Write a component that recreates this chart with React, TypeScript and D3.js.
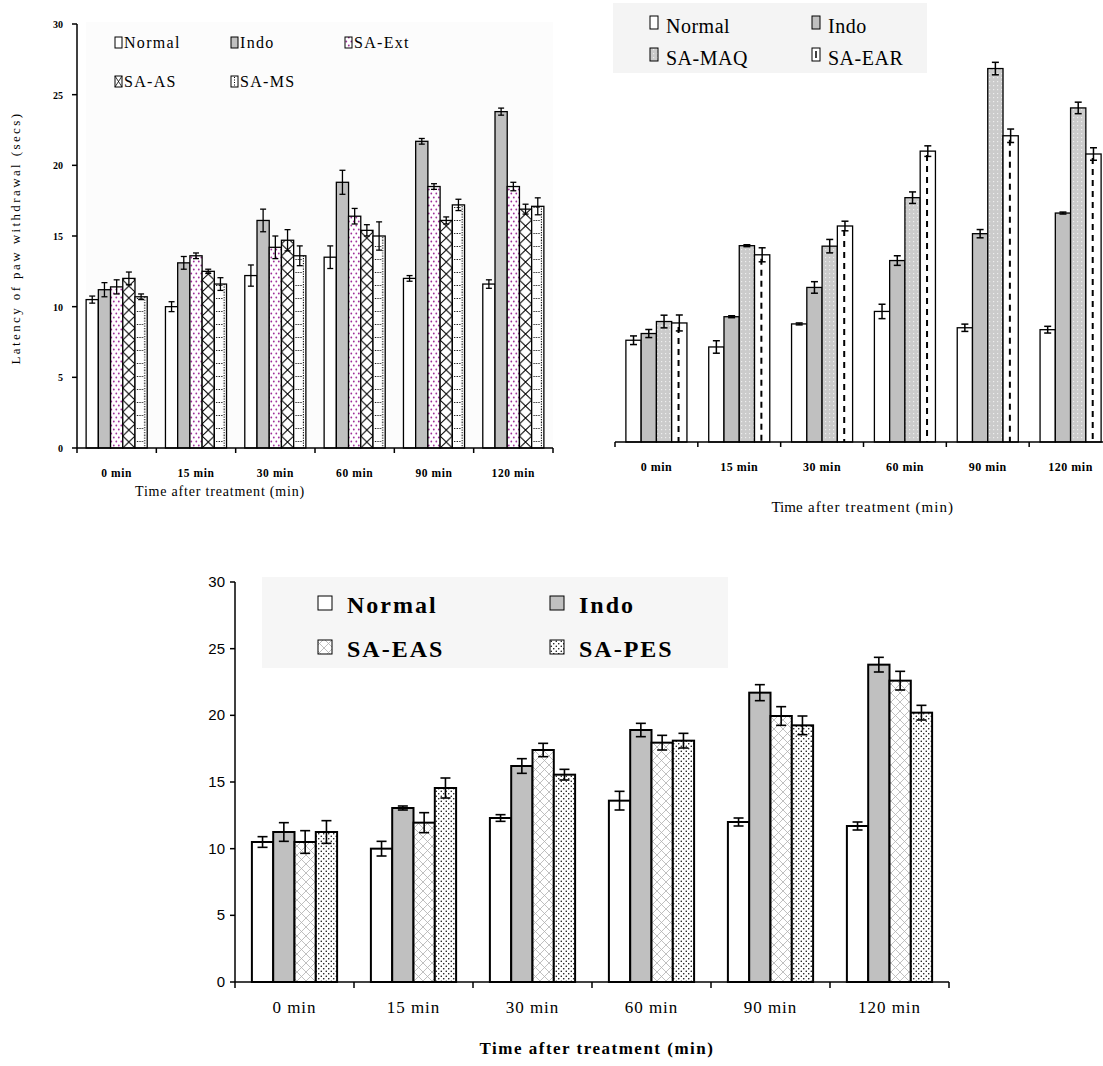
import React from 'react';
import * as d3 from 'd3';

const timePoints = ['0 min', '15 min', '30 min', '60 min', '90 min', '120 min'];
const yTicks = [0, 5, 10, 15, 20, 25, 30];

// top left panel
const normalA = [10.5, 10.0, 12.2, 13.5, 12.0, 11.6];
const normalAErr = [0.25, 0.35, 0.75, 0.8, 0.2, 0.3];
const indoA = [11.2, 13.1, 16.1, 18.8, 21.7, 23.8];
const indoAErr = [0.5, 0.45, 0.8, 0.85, 0.2, 0.25];
const saExtA = [11.4, 13.6, 14.2, 16.4, 18.5, 18.5];
const saExtAErr = [0.5, 0.2, 0.8, 0.55, 0.2, 0.3];
const saAsA = [12.0, 12.5, 14.7, 15.4, 16.1, 16.9];
const saAsAErr = [0.45, 0.15, 0.75, 0.4, 0.25, 0.35];
const saMsA = [10.7, 11.6, 13.6, 15.0, 17.2, 17.1];
const saMsAErr = [0.2, 0.45, 0.7, 1.0, 0.4, 0.6];

// top right panel
const normalB = [10.6, 9.9, 12.3, 13.6, 11.9, 11.7];
const normalBErr = [0.45, 0.65, 0.1, 0.75, 0.38, 0.35];
const indoB = [11.3, 13.05, 16.1, 18.9, 21.7, 23.85];
const indoBErr = [0.42, 0.1, 0.6, 0.5, 0.43, 0.1];
const saMaqB = [12.55, 20.45, 20.4, 25.45, 38.9, 34.8];
const saMaqBErr = [0.66, 0.1, 0.7, 0.6, 0.65, 0.6];
const saEarB = [12.4, 19.5, 22.5, 30.3, 31.9, 30.0];
const saEarBErr = [0.83, 0.73, 0.5, 0.55, 0.7, 0.65];

// bottom panel
const normalC = [10.5, 10.0, 12.3, 13.6, 12.0, 11.7];
const normalCErr = [0.4, 0.55, 0.25, 0.7, 0.3, 0.3];
const indoC = [11.25, 13.05, 16.2, 18.9, 21.7, 23.8];
const indoCErr = [0.7, 0.15, 0.55, 0.5, 0.6, 0.55];
const saEasC = [10.5, 11.95, 17.4, 17.95, 19.95, 22.6];
const saEasCErr = [0.85, 0.75, 0.5, 0.55, 0.7, 0.7];
const saPesC = [11.25, 14.55, 15.55, 18.1, 19.25, 20.2];
const saPesCErr = [0.85, 0.75, 0.4, 0.55, 0.7, 0.55];

type Series = { name: string; values: number[]; errs: number[]; kind: string };

const seriesA: Series[] = [
  { name: 'Normal', values: normalA, errs: normalAErr, kind: 'white' },
  { name: 'Indo', values: indoA, errs: indoAErr, kind: 'grey' },
  { name: 'SA-Ext', values: saExtA, errs: saExtAErr, kind: 'purpleDots' },
  { name: 'SA-AS', values: saAsA, errs: saAsAErr, kind: 'bigX' },
  { name: 'SA-MS', values: saMsA, errs: saMsAErr, kind: 'dotGrid' },
];
const seriesB: Series[] = [
  { name: 'Normal', values: normalB, errs: normalBErr, kind: 'white' },
  { name: 'Indo', values: indoB, errs: indoBErr, kind: 'grey' },
  { name: 'SA-MAQ', values: saMaqB, errs: saMaqBErr, kind: 'maq' },
  { name: 'SA-EAR', values: saEarB, errs: saEarBErr, kind: 'dashCenter' },
];
const seriesC: Series[] = [
  { name: 'Normal', values: normalC, errs: normalCErr, kind: 'white' },
  { name: 'Indo', values: indoC, errs: indoCErr, kind: 'grey' },
  { name: 'SA-EAS', values: saEasC, errs: saEasCErr, kind: 'greyCross' },
  { name: 'SA-PES', values: saPesC, errs: saPesCErr, kind: 'blackDots' },
];

function simpleFill(kind: string) {
  if (kind === 'grey') return '#c0c0c0';
  if (kind === 'purpleDots') return 'url(#purpleDots)';
  if (kind === 'maq') return 'url(#maqTex)';
  if (kind === 'greyCross') return 'url(#greyCross)';
  if (kind === 'blackDots') return 'url(#blackDots)';
  return '#fff';
}

function Bars({ id, series, x0, y, sw, capW, errW }: any) {
  const x1 = d3.scaleBand<string>().domain(series.map((s: Series) => s.name)).range([0, x0.bandwidth()]);
  const bw = x1.bandwidth();
  const base = y(0);
  return (
    <g>
      {series.map((s: Series, si: number) =>
        s.values.map((v, i) => {
          const bx = x0(timePoints[i]) + x1(s.name);
          const top = y(v);
          const pid = `${id}-${si}-${i}`;
          let fill = simpleFill(s.kind);
          let pat = null;
          if (s.kind === 'bigX') {
            pat = (
              <pattern id={pid} patternUnits="userSpaceOnUse" x={bx} y={base} width={bw} height={12}>
                <rect width={bw} height={12} fill="#fff" />
                <path d={`M0,0L${bw},12M${bw},0L0,12`} stroke="#000" strokeWidth={1} />
              </pattern>
            );
            fill = `url(#${pid})`;
          } else if (s.kind === 'dotGrid') {
            pat = (
              <pattern id={pid} patternUnits="userSpaceOnUse" x={bx} y={base} width={bw} height={13}>
                <rect width={bw} height={13} fill="#fff" />
                <line x1={bw * 0.15} x2={bw * 0.72} y1={6.5} y2={6.5} stroke="#000" strokeWidth={1} strokeDasharray="1.2,1.3" />
                <line x1={bw * 0.8} x2={bw * 0.8} y1={0} y2={13} stroke="#000" strokeWidth={1} strokeDasharray="1.2,1.3" />
              </pattern>
            );
            fill = `url(#${pid})`;
          }
          const e = s.errs[i];
          const cx = bx + bw / 2;
          return (
            <g key={pid}>
              {pat && <defs>{pat}</defs>}
              <rect x={bx} y={top} width={bw} height={base - top} fill={fill} stroke="#000" strokeWidth={sw} />
              {s.kind === 'dashCenter' && (
                <line x1={bx + bw * 0.45} x2={bx + bw * 0.45} y1={top + 4} y2={base} stroke="#000" strokeWidth={2} strokeDasharray="6,5" />
              )}
              <line x1={cx} x2={cx} y1={y(v + e)} y2={y(v - e)} stroke="#000" strokeWidth={errW} />
              <line x1={cx - capW / 2} x2={cx + capW / 2} y1={y(v + e)} y2={y(v + e)} stroke="#000" strokeWidth={errW} />
              <line x1={cx - capW / 2} x2={cx + capW / 2} y1={y(v - e)} y2={y(v - e)} stroke="#000" strokeWidth={errW} />
            </g>
          );
        })
      )}
    </g>
  );
}

function XAxis({ x0, y0, tickLen, labelY, fontSize, bold, spacing }: any) {
  const [r0, r1] = x0.range();
  const step = x0.step();
  const bounds = d3.range(timePoints.length + 1).map((k) => r0 + k * step);
  return (
    <g>
      <line x1={r0} x2={r1} y1={y0} y2={y0} stroke="#000" strokeWidth={1.5} />
      {bounds.map((b, k) => (
        <line key={k} x1={b} x2={b} y1={y0} y2={y0 + tickLen} stroke="#000" strokeWidth={1.5} />
      ))}
      {timePoints.map((t) => (
        <text key={t} x={x0(t) + x0.bandwidth() / 2} y={labelY} textAnchor="middle" fontSize={fontSize}
          fontWeight={bold ? 'bold' : 'normal'} letterSpacing={spacing || 0}>
          {t}
        </text>
      ))}
    </g>
  );
}

function YAxis({ y, x, labelX, fontSize, fontFamily, bold, dy }: any) {
  const [d0, d1] = y.domain();
  return (
    <g>
      <line x1={x} x2={x} y1={y(d0)} y2={y(d1)} stroke="#000" strokeWidth={1.5} />
      {yTicks.map((t) => (
        <g key={t}>
          <line x1={x - 5} x2={x} y1={y(t)} y2={y(t)} stroke="#000" strokeWidth={1.5} />
          <text x={labelX} y={y(t) + dy} textAnchor="end" fontSize={fontSize} fontFamily={fontFamily} fontWeight={bold ? 'bold' : 'normal'}>
            {t}
          </text>
        </g>
      ))}
    </g>
  );
}

function Swatch({ kind, x, y, w, h }: any) {
  if (kind === 'bigX' || kind === 'dotGrid' || kind === 'dashCenter') {
    return (
      <g>
        <rect x={x} y={y} width={w} height={h} fill="#fff" stroke="#000" strokeWidth={1} />
        {kind === 'bigX' && <path d={`M${x},${y}L${x + w},${y + h}M${x + w},${y}L${x},${y + h}`} stroke="#000" strokeWidth={0.8} />}
        {kind === 'dotGrid' && <line x1={x + w * 0.5} x2={x + w * 0.5} y1={y + 1} y2={y + h - 1} stroke="#000" strokeDasharray="1,1.5" />}
        {kind === 'dashCenter' && <line x1={x + w * 0.5} x2={x + w * 0.5} y1={y + 3} y2={y + h - 3} stroke="#000" strokeWidth={1.5} />}
      </g>
    );
  }
  return <rect x={x} y={y} width={w} height={h} fill={simpleFill(kind)} stroke="#000" strokeWidth={1} />;
}

export default function App() {
  const x0A = d3.scaleBand<string>().domain(timePoints).range([77, 553]).paddingInner(0.23).paddingOuter(0.115);
  const yA = d3.scaleLinear().domain([0, 30]).range([448, 24]);
  const x0B = d3.scaleBand<string>().domain(timePoints).range([615, 1112]).paddingInner(0.263).paddingOuter(0.1315);
  const yB = d3.scaleLinear().domain([0, 45]).range([442, 10]);
  const x0C = d3.scaleBand<string>().domain(timePoints).range([235, 949]).paddingInner(0.284).paddingOuter(0.142);
  const yC = d3.scaleLinear().domain([0, 30]).range([982, 582]);

  const legA = [
    { s: seriesA[0], x: 115, y: 48 },
    { s: seriesA[1], x: 231, y: 48 },
    { s: seriesA[2], x: 345, y: 48 },
    { s: seriesA[3], x: 115, y: 87 },
    { s: seriesA[4], x: 231, y: 87 },
  ];
  const legB = [
    { s: seriesB[0], x: 650, y: 33 },
    { s: seriesB[1], x: 812, y: 33 },
    { s: seriesB[2], x: 650, y: 65 },
    { s: seriesB[3], x: 812, y: 65 },
  ];
  const legC = [
    { s: seriesC[0], x: 318, y: 613 },
    { s: seriesC[1], x: 550, y: 613 },
    { s: seriesC[2], x: 318, y: 657 },
    { s: seriesC[3], x: 550, y: 657 },
  ];

  return (
    <svg width={1103} height={1066} style={{ position: 'absolute', left: 0, top: 0, background: '#fff' }} fontFamily="'Liberation Serif', 'Times New Roman', serif">
      <defs>
        <pattern id="purpleDots" patternUnits="userSpaceOnUse" width="5" height="8">
          <rect width="5" height="8" fill="#fff" />
          <circle cx="1.3" cy="1.5" r="0.9" fill="#a0309a" />
          <circle cx="3.8" cy="5.5" r="0.9" fill="#a0309a" />
        </pattern>
        <pattern id="greyCross" patternUnits="userSpaceOnUse" width="9" height="9">
          <rect width="9" height="9" fill="#fff" />
          <path d="M0,0L9,9M9,0L0,9" stroke="#b0b0b0" strokeWidth="0.8" />
        </pattern>
        <pattern id="blackDots" patternUnits="userSpaceOnUse" width="5" height="5">
          <rect width="5" height="5" fill="#fff" />
          <circle cx="1.25" cy="1.25" r="0.75" fill="#000" />
          <circle cx="3.75" cy="3.75" r="0.75" fill="#000" />
        </pattern>
        <pattern id="maqTex" patternUnits="userSpaceOnUse" width="4" height="4">
          <rect width="4" height="4" fill="#cbcbcb" />
          <rect x="1" y="1" width="1.2" height="1.2" fill="#eeeeee" />
        </pattern>
      </defs>

      {/* ---------- top left ---------- */}
      <rect x={86} y={22} width={467} height={426} fill="#fcfcfc" />
      <Bars id="a" series={seriesA} x0={x0A} y={yA} sw={1.3} capW={6} errW={1.3} />
      <YAxis y={yA} x={77} labelX={63} fontSize={10} bold dy={4} />
      <XAxis x0={x0A} y0={448} tickLen={5} labelY={477} fontSize={11.5} bold spacing={0.6} />
      {legA.map(({ s, x, y }) => (
        <g key={s.name}>
          <Swatch kind={s.kind} x={x} y={y - 11} w={7} h={11} />
          <text x={x + 9} y={y} fontSize={16} letterSpacing={1.3}>{s.name}</text>
        </g>
      ))}
      <text transform="translate(20,238) rotate(-90)" textAnchor="middle" fontSize={13} letterSpacing={2.4}>
        Latency of paw withdrawal (secs)
      </text>
      <text x={220} y={496} textAnchor="middle" fontSize={14} letterSpacing={0.8}>Time after treatment (min)</text>

      {/* ---------- top right ---------- */}
      <rect x={613} y={3} width={314} height={70} fill="#f4f4f4" />
      <Bars id="b" series={seriesB} x0={x0B} y={yB} sw={1.3} capW={7} errW={1.5} />
      <XAxis x0={x0B} y0={442} tickLen={5} labelY={471} fontSize={12} bold spacing={0.5} />
      {legB.map(({ s, x, y }) => (
        <g key={s.name}>
          <Swatch kind={s.kind} x={x} y={y - 17} w={8} h={13} />
          <text x={x + 16} y={y} fontSize={20} letterSpacing={0.5}>{s.name}</text>
        </g>
      ))}
      <text x={787} y={512} textAnchor="middle" fontSize={15}>Time</text>
      <text x={808} y={512} fontSize={15} letterSpacing={1}>after treatment (min)</text>

      {/* ---------- bottom ---------- */}
      <rect x={262} y={577} width={466} height={91} fill="#f6f6f6" />
      <Bars id="c" series={seriesC} x0={x0C} y={yC} sw={2} capW={10} errW={1.6} />
      <YAxis y={yC} x={235} labelX={225} fontSize={15} fontFamily="'Liberation Sans', Arial, sans-serif" dy={5} />
      <XAxis x0={x0C} y0={982} tickLen={6} labelY={1013} fontSize={17} spacing={1} />
      {legC.map(({ s, x, y }) => (
        <g key={s.name}>
          <Swatch kind={s.kind} x={x} y={y - 17} w={14} h={14} />
          <text x={x + 29} y={y} fontSize={24} fontWeight="bold" letterSpacing={2}>{s.name}</text>
        </g>
      ))}
      <text x={597} y={1054} textAnchor="middle" fontSize={17} fontWeight="bold" letterSpacing={1.5}>Time after treatment (min)</text>
    </svg>
  );
}
